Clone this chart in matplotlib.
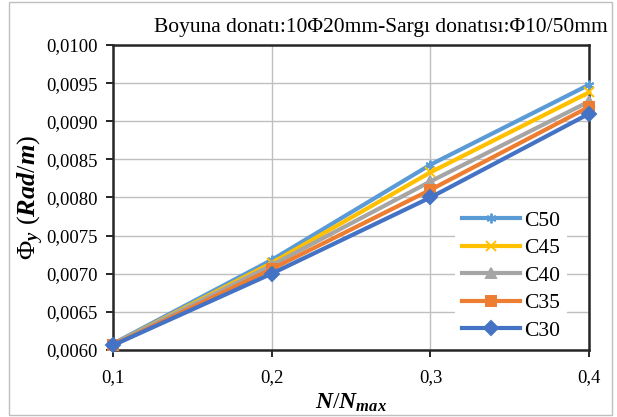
import matplotlib
matplotlib.use("Agg")
import matplotlib.pyplot as plt
from matplotlib.patches import Rectangle
from matplotlib.ticker import FuncFormatter

plt.rcParams['font.family'] = ['Liberation Serif', 'DejaVu Serif']
plt.rcParams['mathtext.fontset'] = 'custom'
plt.rcParams['mathtext.rm'] = 'Liberation Serif'
plt.rcParams['mathtext.it'] = 'Liberation Serif:italic:bold'
plt.rcParams['mathtext.bf'] = 'Liberation Serif:bold'

# Data
n_ratio = [0.1, 0.2, 0.3, 0.4]
c50 = [0.00608, 0.00718, 0.00843, 0.00948]
c45 = [0.00607, 0.00714, 0.00833, 0.00938]
c40 = [0.00607, 0.00711, 0.00821, 0.00926]
c35 = [0.00606, 0.00706, 0.00810, 0.00919]
c30 = [0.00606, 0.00700, 0.00800, 0.00910]

series = [
    ("C50", c50, "#5B9BD5", (6, 2, 0)),
    ("C45", c45, "#FFC000", "x"),
    ("C40", c40, "#A5A5A5", "^"),
    ("C35", c35, "#ED7D31", "s"),
    ("C30", c30, "#4472C4", "D"),
]

fig = plt.figure(figsize=(6.17, 4.17), dpi=100)
ax = fig.add_axes([0.183, 0.161, 0.772, 0.731])

# outer chart border
fig.patches.append(Rectangle((0.014, 0.005), 0.978, 0.99, transform=fig.transFigure,
                             fill=False, edgecolor="#BFBFBF", linewidth=1.0))

for name, vals, color, mk in series:
    ax.plot(n_ratio, vals, color=color, linewidth=3.0, marker=mk, markersize=7,
            markeredgewidth=1.4, markerfacecolor=color, markeredgecolor=color,
            label=name, clip_on=False, zorder=3)

ax.set_xlim(0.1, 0.4)
ax.set_ylim(0.0060, 0.0100)
ax.set_xticks(n_ratio)
ax.set_yticks([0.0060 + 0.0005 * i for i in range(9)])
ax.xaxis.set_major_formatter(FuncFormatter(lambda v, p: f"{v:.1f}".replace(".", ",")))
ax.yaxis.set_major_formatter(FuncFormatter(lambda v, p: f"{v:.4f}".replace(".", ",")))
ax.tick_params(axis="both", labelsize=13.5, direction="out", length=5, width=1.2,
               colors="black", pad=6)
ax.tick_params(axis="x", pad=9)
ax.grid(True, color="#BFBFBF", linewidth=1.0)
ax.set_axisbelow(True)
for sp in ax.spines.values():
    sp.set_linewidth(1.8)
    sp.set_color("#262626")

ax.set_xlabel(r"$N/N_{max}$", fontsize=17, labelpad=4)
ax.set_ylabel(r"$\Phi_y\ (Rad/m)$", fontsize=19, labelpad=0)

fig.text(0.985, 0.935, "Boyuna donatı:10Φ20mm-Sargı donatısı:Φ10/50mm",
         ha="right", va="center", fontsize=15.5)

leg = ax.legend(loc="center right", bbox_to_anchor=(0.975, 0.243), fontsize=15.5,
                frameon=True, framealpha=1, edgecolor="none", handlelength=2.7,
                labelspacing=0.35, borderpad=0.3, handletextpad=0.2)
leg.set_zorder(5)

fig.savefig("out.png", dpi=100)
